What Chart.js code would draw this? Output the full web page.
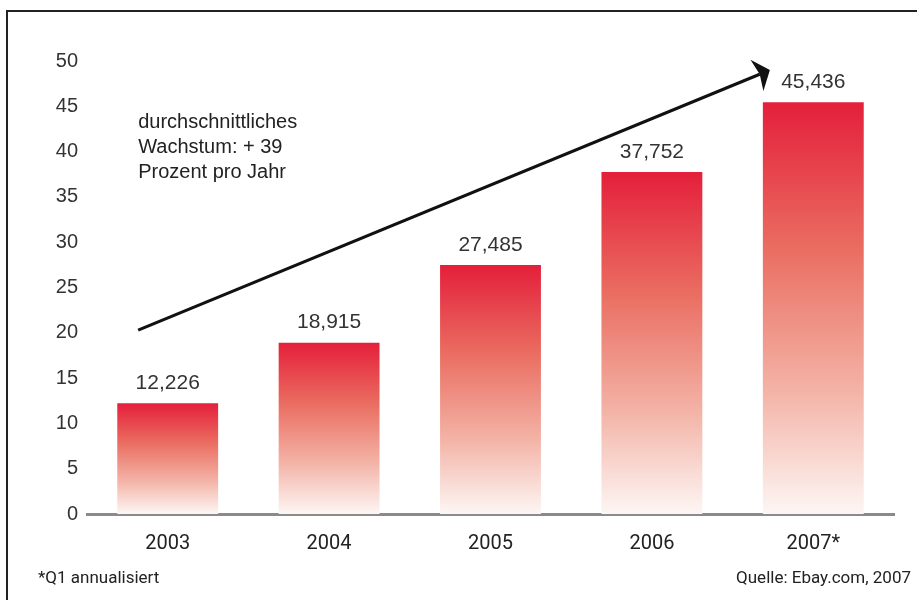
<!DOCTYPE html>
<html>
<head>
<meta charset="utf-8">
<script src="https://cdn.jsdelivr.net/npm/chart.js@4"></script>
<style>
html,body{margin:0;padding:0;background:#fff;overflow:hidden;}
#wrap{position:relative;width:917px;height:600px;}
</style>
</head>
<body>
<div id="wrap"><canvas id="c" width="917" height="600"></canvas></div>
<script>
// ---- data ----
const categories = ['2003', '2004', '2005', '2006', '2007*'];
const values = [12.226, 18.915, 27.485, 37.752, 45.436];
const yTicks = [0, 5, 10, 15, 20, 25, 30, 35, 40, 45, 50];
const noteLines = ['durchschnittliches', 'Wachstum: + 39', 'Prozent pro Jahr'];
const footLeft = '*Q1 annualisiert';
const footRight = 'Quelle: Ebay.com, 2007';
// trend arrow in data coordinates: [category index, value]
const arrowFrom = [-0.183, 20.3];
const arrowTo = [3.731, 49.0];
const noteAnchor = [-0.183, 43.2];

const FONT = '"Liberation Sans", Arial, sans-serif';
const NARROW = 'Roboto, "Liberation Sans", sans-serif';

function fmt(v) { return v.toFixed(3).replace('.', ','); }

function barGradient(ctx) {
  const chart = ctx.chart;
  if (!chart.chartArea || ctx.raw === undefined) return '#e41f3b';
  const ys = chart.scales.y;
  const top = ys.getPixelForValue(ctx.raw);
  const bottom = ys.getPixelForValue(0);
  const g = chart.ctx.createLinearGradient(0, top, 0, bottom);
  g.addColorStop(0, '#e41f3b');
  g.addColorStop(0.35, '#ea6c60');
  g.addColorStop(0.7, '#f3b3a6');
  g.addColorStop(1, '#fdf6f4');
  return g;
}

function xPix(chart, v) {
  const xs = chart.scales.x;
  const p0 = xs.getPixelForTick(0), p1 = xs.getPixelForTick(1);
  return p0 + (p1 - p0) * v;
}

const decor = {
  id: 'decor',
  beforeDraw(chart) {
    const c = chart.ctx;
    c.save();
    c.strokeStyle = '#222';
    c.lineWidth = 2;
    c.strokeRect(7, 11, 1200, 1200);
    c.restore();
  },
  afterDatasetsDraw(chart) {
    const c = chart.ctx;
    const ys = chart.scales.y;
    c.save();
    // value labels
    c.fillStyle = '#333';
    c.font = '21px ' + FONT;
    c.textAlign = 'center';
    c.textBaseline = 'middle';
    chart.getDatasetMeta(0).data.forEach((el, i) => {
      c.fillText(fmt(values[i]), el.x, el.y - 20);
    });
    // note
    c.fillStyle = '#222';
    c.font = '20px ' + FONT;
    c.textAlign = 'left';
    const nx = xPix(chart, noteAnchor[0]);
    const ny = ys.getPixelForValue(noteAnchor[1]);
    noteLines.forEach((t, i) => c.fillText(t, nx, ny + i * 25));
    // arrow
    const x0 = xPix(chart, arrowFrom[0]), y0 = ys.getPixelForValue(arrowFrom[1]);
    const x1 = xPix(chart, arrowTo[0]), y1 = ys.getPixelForValue(arrowTo[1]);
    const dx = x1 - x0, dy = y1 - y0, len = Math.hypot(dx, dy);
    const ux = dx / len, uy = dy / len, px = -uy, py = ux;
    const L = 14, W = 17, ind = 3;
    c.strokeStyle = '#111';
    c.lineWidth = 3;
    c.beginPath();
    c.moveTo(x0, y0);
    c.lineTo(x1 - ux * (L - ind), y1 - uy * (L - ind));
    c.stroke();
    c.fillStyle = '#111';
    c.beginPath();
    c.moveTo(x1, y1);
    c.lineTo(x1 - ux * L + px * W, y1 - uy * L + py * W);
    c.lineTo(x1 - ux * (L - ind), y1 - uy * (L - ind));
    c.lineTo(x1 - ux * L - px * W, y1 - uy * L - py * W);
    c.closePath();
    c.fill();
    // footnotes
    c.fillStyle = '#222';
    c.font = '17px ' + NARROW;
    c.textAlign = 'left';
    c.fillText(footLeft, 38, 579);
    c.textAlign = 'right';
    c.fillText(footRight, 911, 579);
    c.restore();
  }
};

new Chart(document.getElementById('c'), {
  type: 'bar',
  data: {
    labels: categories,
    datasets: [{
      data: values,
      backgroundColor: barGradient,
      borderWidth: 0,
      barPercentage: 0.625,
      categoryPercentage: 1.0
    }]
  },
  options: {
    responsive: false,
    animation: false,
    events: [],
    layout: { padding: { top: 61, right: 23, left: 0, bottom: 0 } },
    plugins: { legend: { display: false }, tooltip: { enabled: false } },
    scales: {
      x: {
        grid: { display: false, drawTicks: false },
        border: { display: true, color: '#8a8a8a', width: 3 },
        ticks: { color: '#222', font: { family: NARROW, size: 20 }, padding: 18 },
        afterFit(s) { s.height = 86; }
      },
      y: {
        min: 0, max: 50,
        afterBuildTicks(s) { s.ticks = yTicks.map(v => ({ value: v })); },
        grid: { display: false, drawTicks: false },
        border: { display: false },
        ticks: { color: '#333', font: { family: FONT, size: 20 }, padding: 9 },
        afterFit(s) { s.width = 87; }
      }
    }
  },
  plugins: [decor]
});
</script>
</body>
</html>
